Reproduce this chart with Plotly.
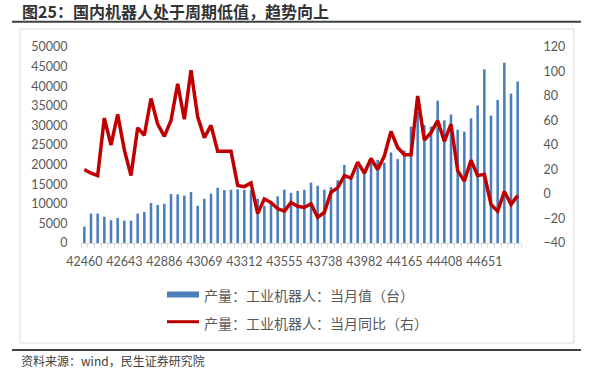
import plotly.graph_objects as go

# Excel serial dates (month-end), Jan/Feb omitted
dates = [42460, 42490, 42521, 42551, 42582, 42613, 42643, 42674, 42704, 42735,
         42825, 42855, 42886, 42916, 42947, 42978, 43008, 43039, 43069, 43100,
         43190, 43220, 43251, 43281, 43312, 43343, 43373, 43404, 43434, 43465,
         43555, 43585, 43616, 43646, 43677, 43708, 43738, 43769, 43799, 43830,
         43921, 43951, 43982, 44012, 44043, 44074, 44104, 44135, 44165, 44196,
         44286, 44316, 44347, 44377, 44408, 44439, 44469, 44500, 44530, 44561,
         44651, 44681, 44712, 44742, 44773, 44804]

units = [4200, 7500, 7500, 6700, 5800, 6400, 5700, 5700, 7500, 7900,
         10200, 9700, 10000, 12500, 12400, 12100, 13000, 9500, 11300, 12600,
         14100, 13500, 13600, 13700, 13600, 13500, 11300, 9500, 10800, 11900,
         13600, 12800, 13300, 13600, 15400, 14600, 13600, 14300, 16000, 19900,
         17000, 19300, 17800, 20500, 21200, 20500, 23100, 21400, 23600, 29700,
         33500, 30100, 29700, 36300, 31300, 32800, 28900, 28400, 31800, 35100,
         44300, 32500, 36500, 46000, 38100, 41200]

yoy = [20, 17, 15, 62, 40, 65, 36, 15, 54, 48,
       78, 57, 47, 60, 90, 61, 101, 63, 46, 56,
       35, 35, 35, 7, 6, 9, -16, -4, -7, -12,
       -14, -7, -10, -11, -8, -19, -15, 1.5, 5, 15,
       13, 26, 17, 29, 20, 31, 51, 38, 32, 32,
       80, 44, 50, 60, 43, 57, 19, 10.5, 27.5, 15,
       16, -8.5, -14, 2, -8.5, -1.3]

label_step = 6
left_ticks = [0, 5000, 10000, 15000, 20000, 25000, 30000, 35000, 40000, 45000, 50000]
right_ticks = [-40, -20, 0, 20, 40, 60, 80, 100, 120]

title_text = "图25：国内机器人处于周期低值，趋势向上"
bar_name = "产量：工业机器人：当月值（台）"
line_name = "产量：工业机器人：当月同比（右）"
source_text = "资料来源：wind，民生证券研究院"

x = [str(d) for d in dates]
ticktext = [str(d) if i % label_step == 0 else "" for i, d in enumerate(dates)]

W, H = 592, 382
L, R, T, B = 81, 71, 47, 139
pw = W - L - R
ph = H - T - B


def px(v):
    return (v - L) / pw


def py(v):
    return (H - B - v) / ph


BAR_COLOR = "#4A7EBB"
LINE_COLOR = "#C00000"
AX_FONT = dict(family="Lato, Liberation Sans, sans-serif", size=12.5, color="#595959")
CJK = "Noto Sans CJK SC"

fig = go.Figure()
fig.add_trace(go.Bar(x=x, y=units, name=bar_name, marker=dict(color=BAR_COLOR, line=dict(width=0)),
                     yaxis="y"))
fig.add_trace(go.Scatter(x=x, y=yoy, name=line_name, mode="lines",
                         line=dict(color=LINE_COLOR, width=3.5), yaxis="y2"))

fig.update_layout(
    width=W, height=H,
    margin=dict(l=L, r=R, t=T, b=B, pad=0),
    paper_bgcolor="white", plot_bgcolor="white",
    showlegend=False,
    bargap=0.62,
    xaxis=dict(type="category", tickmode="array", tickvals=x, ticktext=ticktext,
               tickson="boundaries", ticks="outside", ticklen=4, tickcolor="#D9D9D9",
               tickangle=0, showline=True, linecolor="#D9D9D9", linewidth=1,
               showgrid=False, zeroline=False, tickfont=AX_FONT,
               range=[-0.5, len(x) - 0.5], ticklabelstandoff=7),
    yaxis=dict(range=[0, 50000], tickmode="array", tickvals=left_ticks, tickformat="d",
               showgrid=False, zeroline=False, showline=False,
               ticks="outside", ticklen=10, tickcolor="rgba(0,0,0,0)", tickfont=AX_FONT),
    yaxis2=dict(range=[-40, 120], tickmode="array", tickvals=right_ticks, overlaying="y",
                side="right", showgrid=False, zeroline=False, showline=False,
                ticks="outside", ticklen=19, tickcolor="rgba(0,0,0,0)", tickfont=AX_FONT),
)

shapes = [
    # title rule
    dict(type="line", xref="paper", yref="paper", x0=px(12), x1=px(581), y0=py(21.7), y1=py(21.7),
         line=dict(color="#404040", width=2)),
    # chart frame
    dict(type="rect", xref="paper", yref="paper", x0=px(20), x1=px(574), y0=py(29), y1=py(343),
         line=dict(color="#D9D9D9", width=1), layer="below"),
    # bottom rule
    dict(type="line", xref="paper", yref="paper", x0=px(12), x1=px(581), y0=py(350), y1=py(350),
         line=dict(color="#404040", width=2)),
    # legend swatches
    dict(type="rect", xref="paper", yref="paper", x0=px(167), x1=px(199), y0=py(291.5), y1=py(297.5),
         line=dict(width=0), fillcolor=BAR_COLOR),
    dict(type="line", xref="paper", yref="paper", x0=px(167), x1=px(199), y0=py(321.7), y1=py(321.7),
         line=dict(color=LINE_COLOR, width=3)),
]

annotations = [
    dict(text="<b>" + title_text + "</b>", xref="paper", yref="paper", x=px(20), y=py(11),
         xanchor="left", yanchor="middle", showarrow=False,
         font=dict(family=CJK, size=16, color="#333333")),
    dict(text=bar_name, xref="paper", yref="paper", x=px(202), y=py(295),
         xanchor="left", yanchor="middle", showarrow=False,
         font=dict(family=CJK, size=14, color="#595959")),
    dict(text=line_name, xref="paper", yref="paper", x=px(202), y=py(322.5),
         xanchor="left", yanchor="middle", showarrow=False,
         font=dict(family=CJK, size=14, color="#595959")),
    dict(text=source_text, xref="paper", yref="paper", x=px(19), y=py(360),
         xanchor="left", yanchor="middle", showarrow=False,
         font=dict(family=CJK, size=12, color="#404040")),
]

fig.update_layout(shapes=shapes, annotations=annotations)
fig.write_html("out.html", config=dict(displayModeBar=False, staticPlot=True),
               post_script="document.body.style.margin='0';document.body.style.overflow='hidden';")
